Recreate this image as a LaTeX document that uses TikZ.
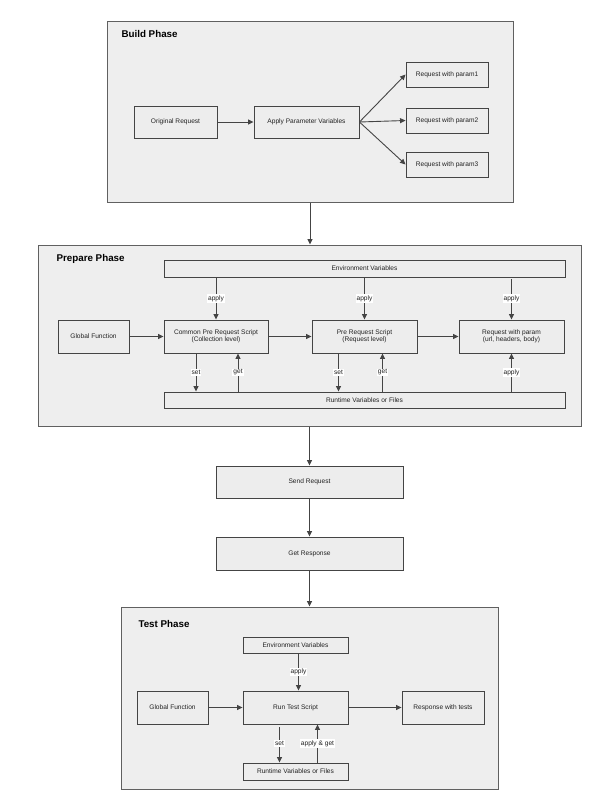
\documentclass[tikz,border=0pt]{standalone}
\usepackage{fontspec}
\setmainfont{Liberation Sans}
\usepackage{xcolor}
\usetikzlibrary{arrows.meta, positioning, calc}
\definecolor{phasecolor}{RGB}{238,238,238}
\definecolor{boxcolor}{RGB}{237,237,237}
\definecolor{linecolor}{RGB}{68,68,68}
\definecolor{textcolor}{RGB}{34,34,34}

\begin{document}
\begin{tikzpicture}[
    x=1pt, y=-1pt,
    phase/.style={draw=linecolor!85, line width=1pt, fill=phasecolor},
    title/.style={anchor=west, text=black, font=\fontsize{9.8}{12}\selectfont\bfseries},
    box/.style={draw=linecolor, line width=0.9pt, fill=boxcolor, inner sep=1pt, text=textcolor, font=\fontsize{6.6}{7.4}\selectfont, align=center},
    lbl/.style={fill=white, inner sep=1pt, text=textcolor, font=\fontsize{6.6}{7.4}\selectfont},
    arrow/.style={-{Triangle[length=5.5pt, width=5pt]}, line width=0.9pt, draw=linecolor}
]
    \useasboundingbox (0,0) rectangle (592,800);

    % phases
    \node[phase, minimum width=406pt, minimum height=180pt] (build) at (310,112) {};
    \node[phase, minimum width=543pt, minimum height=181pt] (prepare) at (309.5,335.5) {};
    \node[phase, minimum width=377pt, minimum height=182pt] (test) at (309.5,698) {};
    \node[title] (buildtitle) at (118,34) {Build Phase};
    \node[title] (preparetitle) at (53,259) {Prepare Phase};
    \node[title] (testtitle) at (135,624) {Test Phase};

    % build phase
    \node[box, minimum width=83pt, minimum height=32pt] (orig) at (175.5,122) {Original Request};
    \node[box, minimum width=105pt, minimum height=32pt] (applyp) at (306.5,122) {Apply Parameter Variables};
    \node[box, minimum width=82pt, minimum height=25pt] (p1) at (447,74.5) {Request with param1};
    \node[box, minimum width=82pt, minimum height=25pt] (p2) at (447,120.5) {Request with param2};
    \node[box, minimum width=82pt, minimum height=25pt] (p3) at (447,164.5) {Request with param3};

    \draw[arrow] (orig) -- (applyp);
    \draw[arrow] (applyp.east) -- (p1.west);
    \draw[arrow] (applyp.east) -- (p2.west);
    \draw[arrow] (applyp.east) -- (p3.west);

    % prepare phase
    \node[box, minimum width=401pt, minimum height=17pt] (env) at (364.5,268.5) {Environment Variables};
    \node[box, minimum width=71pt, minimum height=33pt] (glob) at (93.5,336.5) {Global Function};
    \node[box, minimum width=104pt, minimum height=33pt] (common) at (216,336.5) {Common Pre Request Script\\(Collection level)};
    \node[box, minimum width=105pt, minimum height=33pt] (prereq) at (364.5,336.5) {Pre Request Script\\(Request level)};
    \node[box, minimum width=105pt, minimum height=33pt] (reqp) at (511.5,336.5) {Request with param\\(url, headers, body)};
    \node[box, minimum width=401pt, minimum height=16pt] (runtime) at (364.5,400) {Runtime Variables or Files};

    \draw[arrow] (glob) -- (common);
    \draw[arrow] (common) -- (prereq);
    \draw[arrow] (prereq) -- (reqp);
    \draw[arrow] (env.south -| common) -- node[lbl] {apply} (common);
    \draw[arrow] (env.south -| prereq) -- node[lbl] {apply} (prereq);
    \draw[arrow, shorten <=2pt] (env.south -| reqp) -- node[lbl] {apply} (reqp);
    \draw[arrow] (runtime.north -| reqp) -- node[lbl] {apply} (reqp);
    \draw[arrow] ([xshift=-20pt]common.south) -- node[lbl] {set} ([xshift=-20pt]common.south |- runtime.north);
    \draw[arrow] ([xshift=22pt]common.south |- runtime.north) -- node[lbl] {get} ([xshift=22pt]common.south);
    \draw[arrow] ([xshift=-26pt]prereq.south) -- node[lbl] {set} ([xshift=-26pt]prereq.south |- runtime.north);
    \draw[arrow] ([xshift=18pt]prereq.south |- runtime.north) -- node[lbl] {get} ([xshift=18pt]prereq.south);

    % between phases
    \node[box, minimum width=187pt, minimum height=32pt] (send) at (309.5,482) {Send Request};
    \node[box, minimum width=187pt, minimum height=33pt] (getresp) at (309.5,553.5) {Get Response};

    \draw[arrow] (build.south) -- (build.south |- prepare.north);
    \draw[arrow] (prepare.south) -- (send);
    \draw[arrow] (send) -- (getresp);
    \draw[arrow] (getresp) -- (test.north);

    % test phase
    \node[box, minimum width=105pt, minimum height=16pt] (tenv) at (295.5,645) {Environment Variables};
    \node[box, minimum width=71pt, minimum height=33pt] (tglob) at (172.5,707.5) {Global Function};
    \node[box, minimum width=105pt, minimum height=33pt] (trun) at (295.5,707.5) {Run Test Script};
    \node[box, minimum width=82pt, minimum height=33pt] (tresp) at (443,707.5) {Response with tests};
    \node[box, minimum width=105pt, minimum height=17pt] (truntime) at (295.5,771.5) {Runtime Variables or Files};

    \draw[arrow] (tglob) -- (trun);
    \draw[arrow] (trun) -- (tresp);
    \draw[arrow] ([xshift=3pt]tenv.south) -- node[lbl] {apply} ([xshift=3pt]trun.north);
    \draw[arrow, shorten <=3pt] ([xshift=-16pt]trun.south) -- node[lbl] {set} ([xshift=-16pt]truntime.north);
    \draw[arrow] ([xshift=22pt]truntime.north) -- node[lbl] {apply \& get} ([xshift=22pt]trun.south);
\end{tikzpicture}
\end{document}
